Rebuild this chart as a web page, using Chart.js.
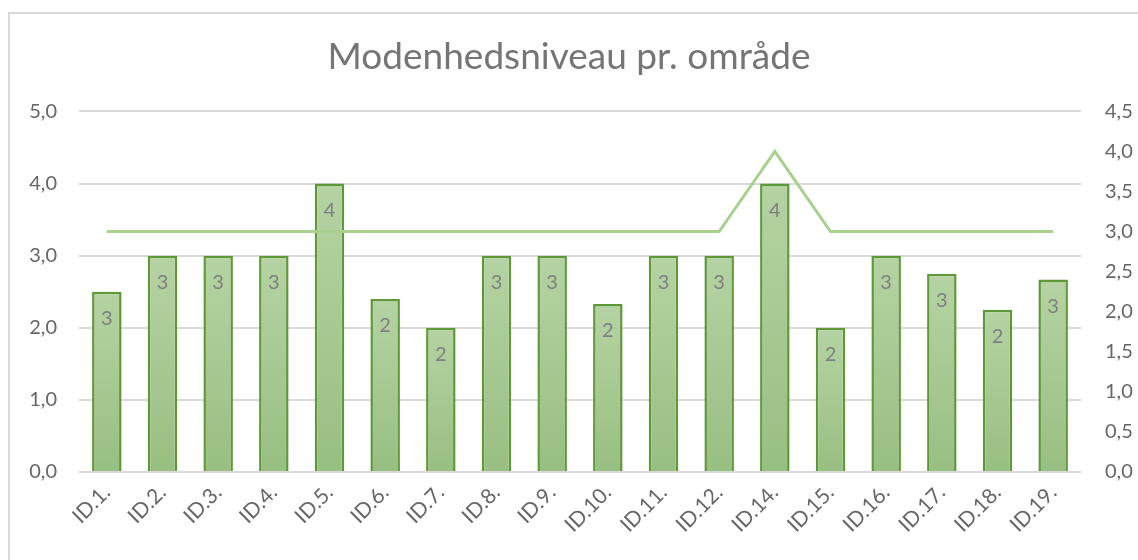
<!DOCTYPE html>
<html>
<head>
<meta charset="utf-8">
<script src="https://cdn.jsdelivr.net/npm/chart.js@4"></script>
<style>
  html, body { margin: 0; padding: 0; background: #fff; }
  #wrap { width: 1138px; height: 560px; position: relative; }
</style>
</head>
<body>
<div id="wrap"><canvas id="chart_modenhed"></canvas></div>
<script>
/* Modenhedsniveau pr. omraade */
var omraader = ['ID.1.', 'ID.2.', 'ID.3.', 'ID.4.', 'ID.5.', 'ID.6.', 'ID.7.', 'ID.8.', 'ID.9.',
                'ID.10.', 'ID.11.', 'ID.12.', 'ID.14.', 'ID.15.', 'ID.16.', 'ID.17.', 'ID.18.', 'ID.19.'];
var niveau = [2.5, 3, 3, 3, 4, 2.4, 2, 3, 3, 2.33, 3, 3, 4, 2, 3, 2.75, 2.25, 2.67];
var maal = [3, 3, 3, 3, 3, 3, 3, 3, 3, 3, 3, 3, 4, 3, 3, 3, 3, 3];

var FONT = "Lato";
var komma = function (v) { return Number(v).toFixed(1).replace('.', ','); };

// frame + labels inside the bars
var rammePlugin = {
    id: 'ramme',
    beforeDraw: function (chart) {
        var ctx = chart.ctx;
        ctx.save();
        ctx.strokeStyle = '#d9d9d9';
        ctx.lineWidth = 2;
        ctx.beginPath();
        ctx.moveTo(9, 560);
        ctx.lineTo(9, 13);
        ctx.lineTo(1138, 13);
        ctx.stroke();
        ctx.restore();
    },
    afterDatasetsDraw: function (chart) {
        var ctx = chart.ctx;
        var meta = chart.getDatasetMeta(1);
        ctx.save();
        ctx.font = '20px ' + FONT;
        ctx.fillStyle = '#7f7f7f';
        ctx.textAlign = 'center';
        ctx.textBaseline = 'middle';
        meta.data.forEach(function (bar, i) {
            ctx.fillText(String(Math.round(niveau[i])), bar.x, bar.y + 27);
        });
        ctx.restore();
    }
};

var ctx = document.getElementById('chart_modenhed').getContext('2d');
var chart = new Chart(ctx, {
    type: 'bar',
    data: {
        labels: omraader,
        datasets: [
            {
                type: 'line',
                data: maal,
                yAxisID: 'y2',
                borderColor: '#a9d18e',
                borderWidth: 3,
                pointRadius: 0,
                tension: 0,
                order: 0
            },
            {
                type: 'bar',
                data: niveau,
                yAxisID: 'y',
                order: 1,
                borderColor: '#5e9839',
                borderWidth: 2.5,
                categoryPercentage: 1,
                barPercentage: 0.53,
                backgroundColor: function (c) {
                    var ch = c.chart;
                    if (!ch.chartArea || c.raw === undefined) { return '#a9cb94'; }
                    var sy = ch.scales.y;
                    var top = sy.getPixelForValue(c.raw);
                    var base = sy.getPixelForValue(0);
                    if (!isFinite(top) || top === base) { return '#a9cb94'; }
                    var g = ch.ctx.createLinearGradient(0, top, 0, base);
                    g.addColorStop(0, '#b5d3a3');
                    g.addColorStop(1, '#98bf82');
                    return g;
                }
            }
        ]
    },
    options: {
        responsive: true,
        maintainAspectRatio: false,
        animation: false,
        layout: { padding: { left: 0, right: 0, top: 0, bottom: 0 } },
        plugins: {
            legend: { display: false },
            tooltip: { enabled: false },
            title: {
                display: true,
                text: 'Modenhedsniveau pr. område',
                color: '#757575',
                font: { family: FONT, size: 37, weight: 'normal' },
                padding: { top: 35, bottom: 32 }
            }
        },
        scales: {
            x: {
                grid: { display: false, drawTicks: false },
                border: { display: false },
                ticks: {
                    color: '#666666',
                    font: { family: FONT, size: 21 },
                    minRotation: 45,
                    maxRotation: 45,
                    padding: 8,
                    autoSkip: false
                },
                afterFit: function (s) { s.height = 88; }
            },
            y: {
                position: 'left',
                min: 0,
                max: 5,
                ticks: {
                    stepSize: 1,
                    color: '#666666',
                    font: { family: FONT, size: 20 },
                    padding: 22,
                    callback: komma
                },
                grid: { color: '#d9d9d9', lineWidth: 2, drawTicks: false },
                border: { display: false },
                afterFit: function (s) { s.width = 79; }
            },
            y2: {
                position: 'right',
                min: 0,
                max: 4.5,
                ticks: {
                    stepSize: 0.5,
                    color: '#666666',
                    font: { family: FONT, size: 20 },
                    padding: 24,
                    callback: komma
                },
                grid: { display: false, drawTicks: false },
                border: { display: false },
                afterFit: function (s) { s.width = 57; }
            }
        }
    },
    plugins: [rammePlugin]
});
</script>
</body>
</html>
